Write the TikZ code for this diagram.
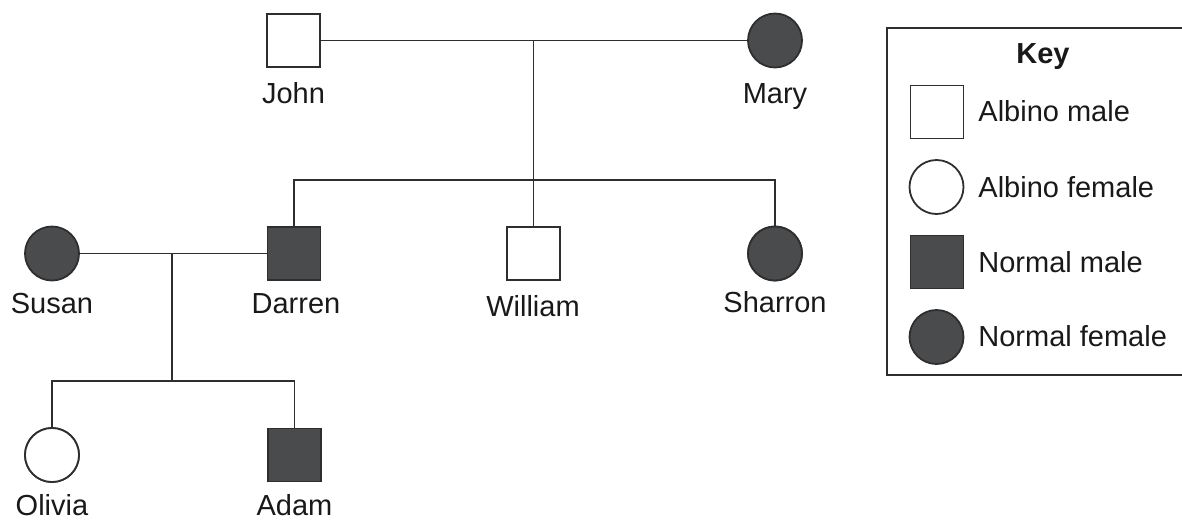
\documentclass[tikz,border=0pt]{standalone}
\usepackage{fontspec}
\setmainfont{Liberation Sans}
\usepackage{xcolor}
\usetikzlibrary{positioning,calc}
\definecolor{normalfill}{HTML}{4A4B4D}
\definecolor{inkgrey}{HTML}{2E2E2E}
\begin{document}
\begin{tikzpicture}[x=0.5pt,y=-0.5pt,
    link/.style={draw=inkgrey,line width=0.8pt},
    male/.style={draw=inkgrey,line width=0.9pt,rectangle,minimum size=26.5pt,inner sep=0pt,fill=white},
    female/.style={draw=inkgrey,line width=0.9pt,circle,minimum size=27pt,inner sep=0pt,fill=white},
    normal/.style={fill=normalfill},
    lbl/.style={inner sep=0pt,anchor=base,text=black!90,font=\fontsize{14.5}{16}\selectfont}]
        \useasboundingbox (0,0) rectangle (1182,520);

        % Grandparents
        \node[male] (john) at (293.5,40.5) {};
        \node[female,normal] (mary) at (775,40.5) {};
        \node[lbl] (johnL) at (293.5,103) {John};
        \node[lbl] (maryL) at (775,103) {Mary};

        % Children
        \node[male,normal] (darren) at (294,253.5) {};
        \node[male] (william) at (533.5,253.5) {};
        \node[female,normal] (sharron) at (775,253.5) {};
        \node[female,normal] (susan) at (52,253.5) {};
        \node[lbl] (susanL) at (52,313) {Susan};
        \node[lbl] (darrenL) at (296,313) {Darren};
        \node[lbl] (williamL) at (533,316) {William};
        \node[lbl] (sharronL) at (775,312) {Sharron};

        % Grandchildren
        \node[female] (olivia) at (52,455) {};
        \node[male,normal] (adam) at (294.5,455) {};
        \node[lbl] (oliviaL) at (52,515) {Olivia};
        \node[lbl] (adamL) at (294.5,515) {Adam};

        % Lines
        \coordinate (jm) at (533.5,40.5);
        \coordinate (sib) at (533.5,180);
        \coordinate (sd) at (172,253.5);
        \coordinate (kids) at (172,381);
        \draw[link] (john) -- (mary);
        \draw[link] (jm) -- (william);
        \draw[link] (darren) |- (sib) -| (sharron);
        \draw[link] (susan) -- (darren);
        \draw[link] (sd) -- (kids);
        \draw[link] (olivia) |- (kids) -| (adam);
        \node[male,normal] at (darren) {};
        \node[male] at (william) {};
        \node[female,normal] at (sharron) {};
        \node[female] at (olivia) {};
        \node[male,normal] at (adam) {};

        % Key
        \draw[link] (887,28) rectangle (1195,375);
        \node[lbl,font=\fontsize{14.5}{16}\selectfont\bfseries] (keyT) at (1043,63) {Key};
        \node[male] (k1) at (937,112) {};
        \node[female] (k2) at (936.5,187) {};
        \node[male,normal] (k3) at (937,262) {};
        \node[female,normal] (k4) at (936.5,337) {};
        \node[lbl,anchor=base west] (k1L) at (978,121) {Albino male};
        \node[lbl,anchor=base west] (k2L) at (978,197) {Albino female};
        \node[lbl,anchor=base west] (k3L) at (978,272) {Normal male};
        \node[lbl,anchor=base west] (k4L) at (978,346) {Normal female};
    \end{tikzpicture}
\end{document}
